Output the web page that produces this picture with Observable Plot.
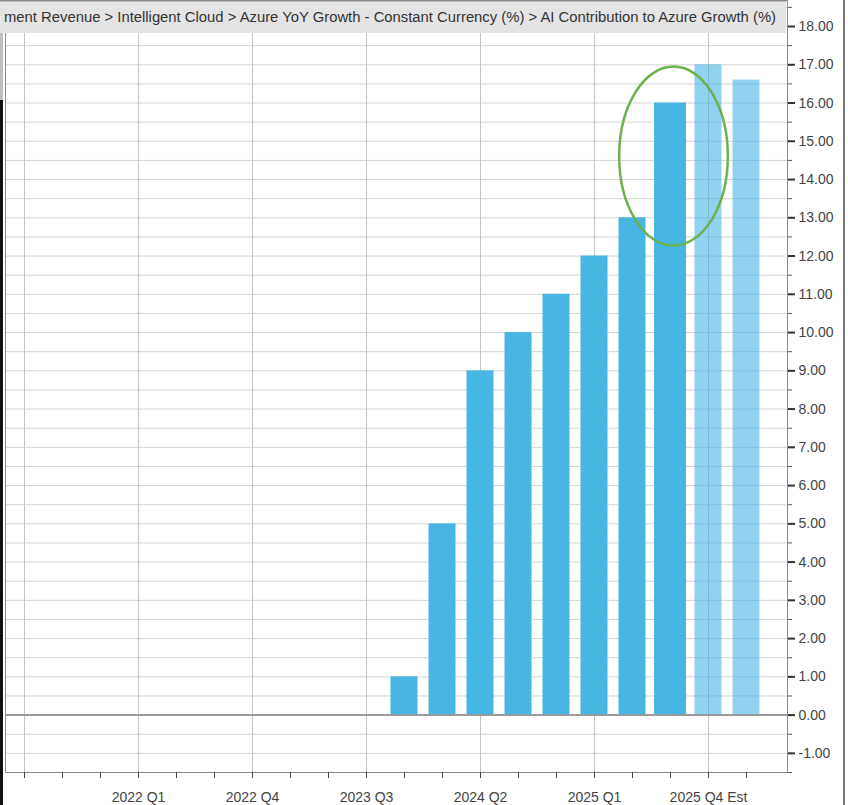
<!DOCTYPE html>
<html>
<head>
<meta charset="utf-8">
<script src="https://cdn.jsdelivr.net/npm/d3@7"></script>
<script src="https://cdn.jsdelivr.net/npm/@observablehq/plot@0.6"></script>
<style>
  body { margin: 0; background: #fff; }
  #chart svg { display: block; }
</style>
</head>
<body>
<div id="chart"></div>
<script>
// ---- data ----
const quarters = [
  "2021 Q2","2021 Q3","2021 Q4",
  "2022 Q1","2022 Q2","2022 Q3","2022 Q4",
  "2023 Q1","2023 Q2","2023 Q3","2023 Q4",
  "2024 Q1","2024 Q2","2024 Q3","2024 Q4",
  "2025 Q1","2025 Q2","2025 Q3","2025 Q4 Est","2026 Q1 Est"
];
const actualQuarters = ["2023 Q4","2024 Q1","2024 Q2","2024 Q3","2024 Q4","2025 Q1","2025 Q2","2025 Q3"];
const actualValues   = [1, 5, 9, 10, 11, 12, 13, 16];
const estimateQuarters = ["2025 Q4 Est","2026 Q1 Est"];
const estimateValues   = [17, 16.6];
const highlightQuarter = "2025 Q3";
const labeledQuarters = ["2022 Q1","2022 Q4","2023 Q3","2024 Q2","2025 Q1","2025 Q4 Est"];
const gridQuarters = ["2021 Q2","2022 Q1","2022 Q4","2023 Q3","2024 Q2","2025 Q1","2025 Q4 Est"];
const yMajorTicks = [-1,0,1,2,3,4,5,6,7,8,9,10,11,12,13,14,15,16,17,18];
const yMinorTicks = d3.range(-1.5, 18.6, 0.5);
const titleText = "ment Revenue > Intelligent Cloud > Azure YoY Growth - Constant Currency (%) > AI Contribution to Azure Growth (%)";
// annotation ellipse (data units)
const ellipseCenterValue = 14.6;
const ellipseHalfHeight = 2.34;
const ellipseHalfWidthQuarters = 1.43;

const actual = actualQuarters.map((q, i) => ({q, v: actualValues[i]}));
const estimate = estimateQuarters.map((q, i) => ({q, v: estimateValues[i]}));

const W = 848, H = 805;
const FONT = "'Liberation Sans', Arial, sans-serif";

const chart = Plot.plot({
  width: W,
  height: H,
  marginTop: 0,
  marginBottom: 33,
  marginLeft: 5,
  marginRight: 61,
  style: {fontSize: "14px", fontFamily: FONT, background: "#fff"},
  x: {type: "band", domain: quarters, range: [5, 5 + 20 * 38], padding: 0, axis: null, label: null},
  y: {domain: [-1.5, 18.68], axis: null, label: null},
  marks: [
    Plot.ruleY(yMinorTicks, {stroke: "#d4d4d4", strokeWidth: 1}),
    Plot.ruleX(gridQuarters, {stroke: "#c4c4c4", strokeWidth: 1}),
    Plot.barY(actual.filter(d => d.q !== highlightQuarter), {x: "q", y: "v", fill: "#48b6e3", insetLeft: 5.5, insetRight: 5.5}),
    Plot.barY(actual.filter(d => d.q === highlightQuarter), {x: "q", y: "v", fill: "#48b6e3", insetLeft: 3, insetRight: 3}),
    Plot.barY(estimate, {x: "q", y: "v", fill: "#48b6e3", fillOpacity: 0.6, insetLeft: 5.5, insetRight: 5.5}),
    Plot.ruleY([0], {stroke: "#9a9a9a", strokeWidth: 2}),
    Plot.frame({stroke: "#8a8a8a"}),
    Plot.axisY(yMinorTicks, {anchor: "right", label: null, tickSize: 4, stroke: "#555", tickFormat: () => ""}),
    Plot.axisY(yMajorTicks, {anchor: "right", label: null, tickSize: 7, tickPadding: 4, stroke: "#333", strokeWidth: 2,
      fill: "#444", textAnchor: "start", tickFormat: d => d.toFixed(2)}),
    Plot.axisX(quarters, {anchor: "bottom", label: null, tickSize: 6, tickPadding: 14, stroke: "#444", fill: "#444",
      tickFormat: d => labeledQuarters.includes(d) ? d : ""})
  ]
});

document.getElementById("chart").append(chart);

// annotations and chrome
const sx = chart.scale("x"), sy = chart.scale("y");
const svg = d3.select(chart);
const bw = sx.bandwidth;
const cx = sx.apply(highlightQuarter) + bw / 2 + 3.5;
const cy = sy.apply(ellipseCenterValue);
const ry = sy.apply(ellipseCenterValue - ellipseHalfHeight) - cy;
svg.append("ellipse")
  .attr("cx", cx).attr("cy", cy)
  .attr("rx", ellipseHalfWidthQuarters * bw).attr("ry", ry)
  .attr("fill", "none").attr("stroke", "#6cb24e").attr("stroke-width", 2.5);

// title strip
const strip = svg.append("g");
strip.append("rect").attr("x", 0).attr("y", 0).attr("width", 786).attr("height", 33).attr("fill", "#e4e4e4");
strip.append("rect").attr("x", 0).attr("y", 0).attr("width", 786).attr("height", 1.5).attr("fill", "#8a8a8a");
strip.append("text").attr("x", 4).attr("y", 22)
  .attr("text-anchor", "start")
  .attr("font-size", 14).attr("font-family", FONT).attr("fill", "#333")
  .attr("textLength", 772).attr("lengthAdjust", "spacingAndGlyphs")
  .text(titleText);

// screenshot edges
svg.append("rect").attr("x", 0).attr("y", 33).attr("width", 3).attr("height", 67).attr("fill", "#bdbdbd");
svg.append("rect").attr("x", 0).attr("y", 100).attr("width", 3).attr("height", H - 100).attr("fill", "#111");
svg.append("rect").attr("x", 843).attr("y", 0).attr("width", 2).attr("height", H).attr("fill", "#7a7a7a");
</script>
</body>
</html>
